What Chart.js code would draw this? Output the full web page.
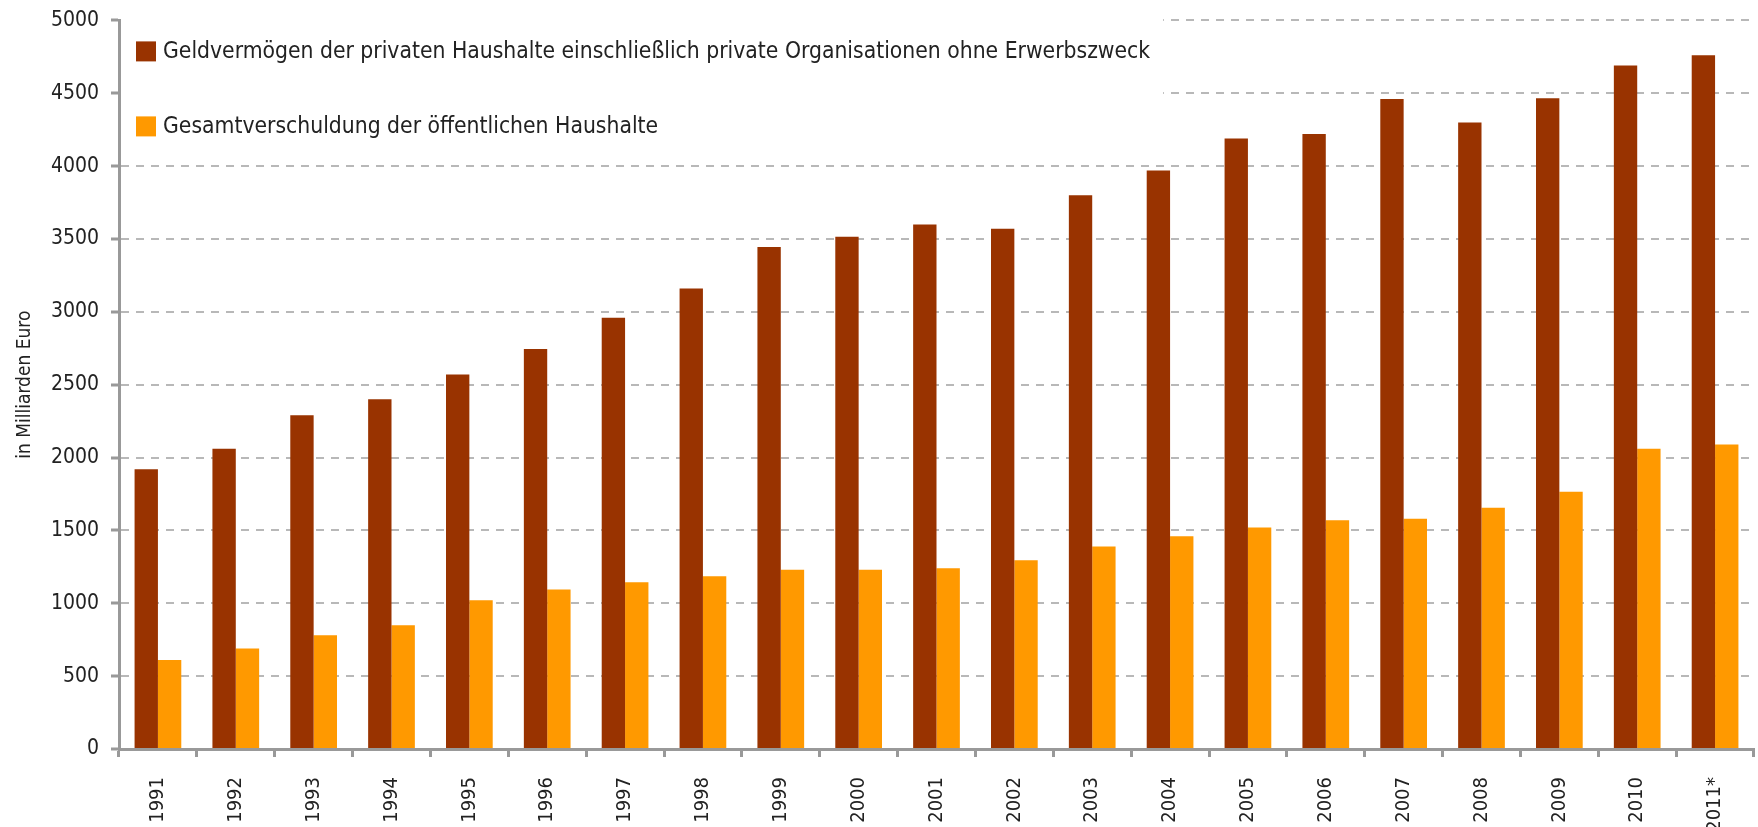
<!DOCTYPE html>
<html>
<head>
<meta charset="utf-8">
<script src="https://cdn.jsdelivr.net/npm/chart.js@4.4.1/dist/chart.umd.min.js"></script>
<style>
  html, body { margin: 0; padding: 0; background: #fff; }
  #wrap { width: 1758px; height: 827px; }
</style>
</head>
<body>
<div id="wrap"><canvas id="chart" width="1758" height="827"></canvas></div>
<script>
const years = ["1991", "1992", "1993", "1994", "1995", "1996", "1997", "1998", "1999", "2000",
  "2001", "2002", "2003", "2004", "2005", "2006", "2007", "2008", "2009", "2010", "2011*"];

// Geldvermögen der privaten Haushalte (Mrd. Euro)
const privateAssets = [1920, 2060, 2290, 2400, 2570, 2745, 2960, 3160, 3445, 3515,
  3600, 3570, 3800, 3970, 4190, 4220, 4460, 4300, 4465, 4690, 4760];

// Gesamtverschuldung der öffentlichen Haushalte (Mrd. Euro)
const publicDebt = [610, 690, 780, 850, 1020, 1095, 1145, 1185, 1230, 1230,
  1240, 1295, 1390, 1460, 1520, 1570, 1580, 1655, 1765, 2060, 2090];

const seriesLabels = [
  "Geldvermögen der privaten Haushalte einschließlich private Organisationen ohne Erwerbszweck",
  "Gesamtverschuldung der öffentlichen Haushalte"
];

const FONT = "'Liberation Sans Narrow', 'DejaVu Sans Condensed', 'Open Sans', sans-serif";
const TEXT = "#222";
const AXIS = "#999";

// legend drawn inside the plot, top left, on a white patch over the grid
const insideLegend = {
  id: "insideLegend",
  beforeDatasetsDraw(chart) {
    const { ctx, chartArea } = chart;
    ctx.save();
    ctx.font = "22.7px " + FONT;
    const x0 = chartArea.left + 17;
    const rows = [chartArea.top + 31, chartArea.top + 106];
    let maxW = 0;
    chart.data.datasets.forEach((ds) => {
      maxW = Math.max(maxW, ctx.measureText(ds.label).width);
    });
    ctx.fillStyle = "#fff";
    ctx.fillRect(chartArea.left + 2, chartArea.top - 2, x0 + 27 + maxW + 11 - chartArea.left, 125);
    chart.data.datasets.forEach((ds, i) => {
      const y = rows[i];
      ctx.fillStyle = ds.backgroundColor;
      ctx.fillRect(x0, y - 10, 20, 20);
      ctx.fillStyle = TEXT;
      ctx.textBaseline = "middle";
      ctx.textAlign = "left";
      ctx.fillText(ds.label, x0 + 27, y + 1);
    });
    ctx.restore();
  }
};

new Chart(document.getElementById("chart"), {
  type: "bar",
  data: {
    labels: years,
    datasets: [
      { label: seriesLabels[0], data: privateAssets, backgroundColor: "#993300" },
      { label: seriesLabels[1], data: publicDebt, backgroundColor: "#ff9900" }
    ]
  },
  plugins: [insideLegend],
  options: {
    responsive: false,
    animation: false,
    categoryPercentage: 0.6,
    barPercentage: 1.0,
    layout: { padding: { top: 0, right: 4, left: 0, bottom: 0 } },
    plugins: {
      legend: { display: false },
      tooltip: { enabled: false }
    },
    scales: {
      x: {
        afterFit: (scale) => { scale.height = 78; },
        grid: {
          display: true,
          drawOnChartArea: false,
          drawTicks: true,
          tickLength: 8,
          tickColor: AXIS,
          tickWidth: 3
        },
        border: { color: AXIS, width: 3 },
        ticks: {
          color: TEXT,
          font: { family: FONT, size: 20, lineHeight: 0.6 },
          minRotation: 90,
          maxRotation: 90,
          padding: 20,
          autoSkip: false
        }
      },
      y: {
        min: 0,
        max: 5000,
        afterFit: (scale) => { scale.width = 119; },
        ticks: {
          stepSize: 500,
          color: TEXT,
          font: { family: FONT, size: 21, lineHeight: 0.8 },
          padding: 12,
          callback: (v) => String(v)
        },
        grid: {
          color: "#b8b8b8",
          lineWidth: 2,
          tickLength: 8,
          tickColor: AXIS,
          tickWidth: 3
        },
        border: { color: AXIS, width: 3, dash: [8, 7] },
        title: {
          display: true,
          text: "in Milliarden Euro",
          color: TEXT,
          font: { family: FONT, size: 19 },
          padding: { top: 14, bottom: 0 }
        }
      }
    }
  }
});
</script>
</body>
</html>
